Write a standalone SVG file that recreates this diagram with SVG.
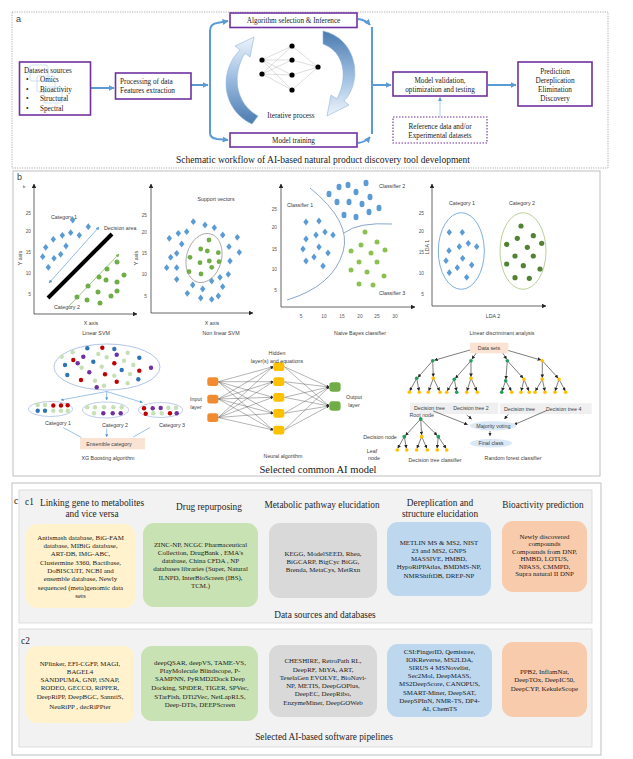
<svg xmlns="http://www.w3.org/2000/svg" width="633" height="759" viewBox="0 0 633 759">
<defs>
<style>
.serif{font-family:"Liberation Serif","Times New Roman",serif;fill:#1a1a1a}
.sans{font-family:"Liberation Sans",Arial,sans-serif;fill:#404040}
.ta{font-size:7.2px}
.mid{text-anchor:middle}
.box{fill:#fff;stroke:#7030a0;stroke-width:1.6}
.flow{fill:none;stroke:#5b9bd5;stroke-width:2}
.ax{stroke:#404040;stroke-width:0.8;fill:none}
.tick{font-family:"Liberation Sans",Arial,sans-serif;font-size:4.8px;fill:#595959;text-anchor:end}
.lbl{font-size:5.3px}
.g1{fill:#70ad47}
.g2{fill:#8cc152}
.g3{fill:#548235}
.bl{fill:#5b9bd5}
.xb{fill:#2e75b6}.xr{fill:#c00000}.xp{fill:#7030a0}.xg{fill:#c5e0b4}
.nn{stroke:#bdbdbd;stroke-width:0.5}
.nl{stroke:#595959;stroke-width:0.45;marker-end:url(#ak)}
.te{stroke:#262626;stroke-width:0.6;marker-end:url(#ak)}
.ty{fill:#ffc000}.tg{fill:#1f9e5a}
.cb{font-family:"Liberation Serif","Times New Roman",serif;font-size:6.9px;fill:#1a1a1a;text-anchor:middle}
.ch{font-family:"Liberation Serif","Times New Roman",serif;font-size:9.3px;fill:#262626;text-anchor:middle}
.pan{fill:#fff;stroke:#bfbfbf;stroke-width:1}
.sub{fill:#f2f2f2;stroke:#d6d6d6;stroke-width:0.8}
</style>
<path id="dm" d="M0,-3.4L2.7,0L0,3.4L-2.7,0Z" fill="#5b9bd5"/>
<marker id="ab" viewBox="0 0 10 10" refX="9" refY="5" markerWidth="3" markerHeight="3" orient="auto"><path d="M0,0L10,5L0,10Z" fill="#5b9bd5"/></marker>
<marker id="ak" viewBox="0 0 10 10" refX="9" refY="5" markerWidth="6" markerHeight="6" orient="auto"><path d="M0,0L10,5L0,10Z" fill="#262626"/></marker>
<marker id="abt" viewBox="0 0 10 10" refX="9" refY="5" markerWidth="5" markerHeight="5" orient="auto-start-reverse"><path d="M0,0L10,5L0,10Z" fill="#5b9bd5"/></marker>
<marker id="agt" viewBox="0 0 10 10" refX="9" refY="5" markerWidth="5" markerHeight="5" orient="auto"><path d="M0,0L10,5L0,10Z" fill="#70ad47"/></marker>
<marker id="alb" viewBox="0 0 10 10" refX="9" refY="5" markerWidth="5" markerHeight="5" orient="auto"><path d="M0,0L10,5L0,10Z" fill="#5b9bd5"/></marker>
<linearGradient id="gup" x1="0" y1="1" x2="0" y2="0"><stop offset="0" stop-color="#4a7bb0"/><stop offset="0.6" stop-color="#a9c6e6"/><stop offset="1" stop-color="#eef4fb"/></linearGradient>
<linearGradient id="gdn" x1="0" y1="0" x2="0" y2="1"><stop offset="0" stop-color="#4a7bb0"/><stop offset="0.6" stop-color="#a9c6e6"/><stop offset="1" stop-color="#eef4fb"/></linearGradient>
</defs>
<rect width="633" height="759" fill="#fff"/>

<!-- ===== Panel a ===== -->
<g id="panel-a">
<rect x="12" y="12" width="596" height="156" fill="#fff" stroke="#9a9a9a" stroke-width="0.8" stroke-dasharray="1.2,1.2"/>
<text class="sans" x="16" y="22" font-size="9" fill="#222">a</text>
<text class="serif mid" x="323" y="163" font-size="9.5">Schematic workflow of AI-based natural product discovery tool development</text>
</g>

<g id="connectors-a">
<line class="flow" x1="91" y1="88" x2="114" y2="88" marker-end="url(#ab)"/>
<line class="flow" x1="191" y1="85" x2="208" y2="85" marker-end="url(#ab)"/>
<path class="flow" d="M210,133 L210,31 Q210,24 217,23 L228,21" marker-end="url(#ab)"/>
<path class="flow" d="M210,128 L210,133 Q210,138 217,139 L228,140" marker-end="url(#ab)"/>
<path class="flow" d="M358,19 Q366,20 370,25" marker-end="url(#ab)"/>
<line class="flow" x1="372" y1="27" x2="372" y2="134"/>
<path class="flow" d="M358,143 Q366,142 370,137" marker-end="url(#ab)"/>
<line class="flow" x1="372" y1="85" x2="391" y2="85" marker-end="url(#ab)"/>
<line class="flow" x1="488" y1="85" x2="516" y2="85" marker-end="url(#ab)"/>
<line x1="440" y1="117" x2="440" y2="97.5" stroke="#9dc3e6" stroke-width="0.8" marker-end="url(#alb)"/>
</g>

<g id="node-datasets">
<rect class="box" x="19.5" y="62" width="71" height="53"/>
<g fill="none" stroke="#9dc3e6" stroke-width="0.7" opacity="0.7">
<rect x="30" y="65" width="18" height="16" rx="2"/>
<rect x="37" y="76" width="18" height="16" rx="2"/>
<rect x="44" y="87" width="18" height="16" rx="2"/>
</g>
<text class="serif ta" x="24" y="73">Datasets sources</text>
<text class="serif ta" x="26" y="81.5">•</text><text class="serif ta" x="40" y="81.5">Omics</text>
<text class="serif ta" x="26" y="91.5">•</text><text class="serif ta" x="40" y="91.5">Bioactivity</text>
<text class="serif ta" x="26" y="101">•</text><text class="serif ta" x="40" y="101">Structural</text>
<text class="serif ta" x="26" y="110.5">•</text><text class="serif ta" x="40" y="110.5">Spectral</text>
</g>

<g id="node-processing">
<rect class="box" x="115.5" y="73" width="75.5" height="26"/>
<text class="serif ta" x="120" y="83.5">Processing of data</text>
<text class="serif ta" x="120" y="92.5">Features extraction</text>
</g>

<g id="node-algorithm">
<rect class="box" x="230" y="13" width="127" height="14.5"/>
<text class="serif ta mid" x="293.5" y="23">Algorithm selection &amp; Inference</text>
</g>

<g id="node-training">
<rect class="box" x="230" y="133" width="127" height="14"/>
<text class="serif ta mid" x="293.5" y="142.5">Model training</text>
</g>

<g id="iterative">
<path d="M252,124 C222,110 218,72 240,50 L235,46 L254,37 L250,57 L245,53 C231,76 236,104 258,116 Z" fill="url(#gup)" stroke="#8fb4dc" stroke-width="0.6"/>
<path d="M323,31 C356,38 364,80 344,101 L349,105 L327,116 L331,95 L337,99 C348,78 345,52 323,44 Z" fill="url(#gdn)" stroke="#8fb4dc" stroke-width="0.6"/>
<g class="nn">
<line x1="262" y1="60" x2="292" y2="46"/><line x1="262" y1="60" x2="292" y2="60"/><line x1="262" y1="60" x2="292" y2="75"/><line x1="262" y1="60" x2="292" y2="90"/>
<line x1="262" y1="74" x2="292" y2="46"/><line x1="262" y1="74" x2="292" y2="60"/><line x1="262" y1="74" x2="292" y2="75"/><line x1="262" y1="74" x2="292" y2="90"/>
<line x1="292" y1="46" x2="318" y2="67"/><line x1="292" y1="60" x2="318" y2="67"/><line x1="292" y1="75" x2="318" y2="67"/><line x1="292" y1="90" x2="318" y2="67"/>
</g>
<g fill="#000">
<circle cx="262" cy="60" r="2.6"/><circle cx="262" cy="74" r="2.6"/>
<circle cx="292" cy="46" r="2.6"/><circle cx="292" cy="60" r="2.6"/><circle cx="292" cy="75" r="2.6"/><circle cx="292" cy="90" r="2.6"/>
<circle cx="318" cy="67" r="2.6"/>
</g>
<text class="serif ta mid" x="291" y="117.5">Iterative process</text>
</g>

<g id="node-validation">
<rect class="box" x="393" y="72" width="94" height="24"/>
<text class="serif ta mid" x="440" y="82.5">Model validation,</text>
<text class="serif ta mid" x="440" y="91.5">optimization and testing</text>
</g>

<g id="node-prediction">
<rect class="box" x="518" y="62" width="74" height="44"/>
<text class="serif ta mid" x="555" y="73.5">Prediction</text>
<text class="serif ta mid" x="555" y="82.5">Dereplication</text>
<text class="serif ta mid" x="555" y="91.5">Elimination</text>
<text class="serif ta mid" x="555" y="101">Discovery</text>
</g>

<g id="node-reference">
<rect x="393" y="117" width="94" height="26" fill="#fff" stroke="#7030a0" stroke-width="1.1" stroke-dasharray="1.5,1.5"/>
<text class="serif ta mid" x="440" y="128.5">Reference data and/or</text>
<text class="serif ta mid" x="440" y="138">Experimental datasets</text>
</g>

<!-- ===== Panel b ===== -->
<g id="panel-b">
<rect class="pan" x="13" y="171" width="587" height="305"/>
<text class="sans" x="17" y="180" font-size="9" fill="#222">b</text>
<text class="serif mid" x="318" y="473" font-size="10.5">Selected common AI model</text>
</g>

<g id="linear-svm">
<line class="ax" x1="34" y1="314" x2="34" y2="184" marker-end="url(#ak)"/>
<line class="ax" x1="34" y1="314" x2="137" y2="314" marker-end="url(#ak)"/>
<text class="sans" x="23" y="187.5" font-size="4">b</text>
<text class="tick" x="31" y="214.5">25</text><text class="tick" x="31" y="232.5">20</text><text class="tick" x="31" y="253.5">15</text><text class="tick" x="31" y="274.5">10</text><text class="tick" x="31" y="295.5">5</text>
<text class="sans lbl mid" transform="translate(21.5,258) rotate(-90)">Y axis</text>
<text class="sans lbl" x="51" y="219">Category 1</text>
<text class="sans lbl" x="104" y="230">Decision area</text>
<text class="sans lbl" x="54" y="309">Category 2</text>
<line x1="49" y1="283" x2="99" y2="227" stroke="#5b9bd5" stroke-width="0.7" marker-start="url(#abt)" marker-end="url(#abt)"/>
<line x1="48" y1="298" x2="112" y2="234" stroke="#000" stroke-width="4"/>
<line x1="68" y1="307" x2="119" y2="254" stroke="#70ad47" stroke-width="0.7" marker-end="url(#agt)"/>
<use href="#dm" x="72.7" y="220"/><use href="#dm" x="88.3" y="226.7"/><use href="#dm" x="79.3" y="235.3"/><use href="#dm" x="70.7" y="232.7"/><use href="#dm" x="62.3" y="235.3"/><use href="#dm" x="53.3" y="239.3"/><use href="#dm" x="45.7" y="247.3"/><use href="#dm" x="42.7" y="256.7"/><use href="#dm" x="48.3" y="267.3"/><use href="#dm" x="54" y="258.3"/><use href="#dm" x="60.7" y="254.3"/><use href="#dm" x="66" y="246"/>
<g class="g1">
<circle cx="117" cy="262" r="2.5"/><circle cx="107" cy="269" r="2.5"/><circle cx="99" cy="277" r="2.5"/><circle cx="106" cy="280" r="2.5"/><circle cx="117" cy="282" r="2.5"/><circle cx="124" cy="275" r="2.5"/><circle cx="88" cy="286" r="2.5"/><circle cx="98" cy="292" r="2.5"/><circle cx="111" cy="296" r="2.5"/><circle cx="117" cy="291" r="2.5"/><circle cx="77" cy="297" r="2.5"/><circle cx="87" cy="300" r="2.5"/><circle cx="100" cy="303" r="2.5"/>
</g>
<text class="sans lbl mid" x="91" y="325">X axis</text>
<text class="sans lbl mid" x="96" y="335">Linear SVM</text>
</g>

<g id="nonlinear-svm">
<line class="ax" x1="151" y1="313" x2="151" y2="184" marker-end="url(#ak)"/>
<line class="ax" x1="151" y1="313" x2="253" y2="313" marker-end="url(#ak)"/>
<text class="tick" x="147" y="216.5">25</text><text class="tick" x="147" y="233.5">20</text><text class="tick" x="147" y="254.5">15</text><text class="tick" x="147" y="275.5">10</text><text class="tick" x="147" y="297.5">5</text>
<text class="sans lbl mid" transform="translate(137.5,258) rotate(-90)">Y axis</text>
<text class="sans lbl mid" x="216" y="201">Support vectors</text>
<ellipse cx="204" cy="258" rx="17.5" ry="25" fill="none" stroke="#7f7f7f" stroke-width="0.6" transform="rotate(15 204 258)"/>
<use href="#dm" x="193.3" y="221.7"/><use href="#dm" x="205" y="225"/><use href="#dm" x="214.3" y="227.7"/><use href="#dm" x="222.7" y="235"/><use href="#dm" x="237.3" y="237.3"/><use href="#dm" x="239.3" y="252.3"/><use href="#dm" x="229" y="246.7"/><use href="#dm" x="230" y="261"/><use href="#dm" x="228.3" y="274.3"/><use href="#dm" x="220" y="277.3"/><use href="#dm" x="222.7" y="286.7"/><use href="#dm" x="218.3" y="296"/><use href="#dm" x="211.7" y="299.3"/><use href="#dm" x="200.7" y="298"/><use href="#dm" x="187.3" y="293.3"/><use href="#dm" x="192.7" y="285"/><use href="#dm" x="202.7" y="289"/><use href="#dm" x="211.7" y="281"/><use href="#dm" x="176.7" y="279.3"/><use href="#dm" x="166.7" y="267.7"/><use href="#dm" x="176.7" y="267.7"/><use href="#dm" x="170.7" y="257.3"/><use href="#dm" x="176.7" y="253.3"/><use href="#dm" x="181.7" y="244"/><use href="#dm" x="169.3" y="238.3"/><use href="#dm" x="178.3" y="233.3"/><use href="#dm" x="186.7" y="231.7"/>
<g class="g1">
<circle cx="209" cy="240" r="2.4"/><circle cx="200.7" cy="249" r="2.4"/><circle cx="207.3" cy="251" r="2.4"/><circle cx="218.3" cy="252.7" r="2.4"/><circle cx="190" cy="257.3" r="2.4"/><circle cx="200" cy="262.7" r="2.4"/><circle cx="209.3" cy="261" r="2.4"/><circle cx="219" cy="261.7" r="2.4"/><circle cx="189" cy="271.7" r="2.4"/><circle cx="201" cy="274" r="2.4"/><circle cx="211.7" cy="267.3" r="2.4"/>
</g>
<text class="sans lbl mid" x="212" y="325">X axis</text>
<text class="sans lbl mid" x="221" y="335">Non linear SVM</text>
</g>

<g id="naive-bayes">
<line class="ax" x1="281" y1="307" x2="281" y2="184" marker-end="url(#ak)"/>
<line class="ax" x1="281" y1="307" x2="415" y2="307" marker-end="url(#ak)"/>
<text class="tick" x="277" y="210.5">25</text><text class="tick" x="277" y="228.5">20</text><text class="tick" x="277" y="250.5">15</text><text class="tick" x="277" y="270.5">10</text><text class="tick" x="277" y="291.5">5</text>
<g class="tick" style="text-anchor:middle"><text x="301" y="318">5</text><text x="324" y="318">10</text><text x="342" y="318">15</text><text x="360" y="318">20</text><text x="377" y="318">25</text><text x="395" y="318">30</text></g>
<path d="M310,188 Q352,222 343,252 Q333,286 287,300" fill="none" stroke="#5a7fb5" stroke-width="0.7"/>
<path d="M344,233 Q358,222 392,224" fill="none" stroke="#5a7fb5" stroke-width="0.7"/>
<text class="sans lbl" x="287" y="207">Classifier 1</text>
<text class="sans lbl" x="379" y="188">Classifier 2</text>
<text class="sans lbl" x="379" y="295">Classifier 3</text>
<g class="bl">
<ellipse cx="339" cy="187" rx="2.5" ry="3.2"/><ellipse cx="348" cy="185" rx="2.5" ry="3.2"/><ellipse cx="366" cy="183" rx="2.5" ry="3.2"/><ellipse cx="329" cy="194" rx="2.5" ry="3.2"/><ellipse cx="356" cy="192" rx="2.5" ry="3.2"/><ellipse cx="370" cy="197" rx="2.5" ry="3.2"/><ellipse cx="337" cy="202" rx="2.5" ry="3.2"/><ellipse cx="349" cy="202" rx="2.5" ry="3.2"/><ellipse cx="362" cy="204" rx="2.5" ry="3.2"/><ellipse cx="379" cy="208" rx="2.5" ry="3.2"/><ellipse cx="344" cy="215" rx="2.5" ry="3.2"/><ellipse cx="356" cy="217" rx="2.5" ry="3.2"/><ellipse cx="369" cy="212" rx="2.5" ry="3.2"/>
</g>
<use href="#dm" x="306" y="222"/><use href="#dm" x="319" y="221"/><use href="#dm" x="306" y="239"/><use href="#dm" x="316" y="235"/><use href="#dm" x="325" y="232"/><use href="#dm" x="333" y="235"/><use href="#dm" x="303" y="249"/><use href="#dm" x="319" y="247"/><use href="#dm" x="328" y="253"/><use href="#dm" x="306" y="261"/><use href="#dm" x="314" y="257"/><use href="#dm" x="323" y="266"/>
<g class="g2">
<circle cx="365" cy="232" r="2.5"/><circle cx="377" cy="242" r="2.5"/><circle cx="351" cy="251" r="2.5"/><circle cx="361" cy="245" r="2.5"/><circle cx="371" cy="253" r="2.5"/><circle cx="385" cy="250" r="2.5"/><circle cx="359" cy="262" r="2.5"/><circle cx="377" cy="262" r="2.5"/><circle cx="351" cy="270" r="2.5"/><circle cx="367" cy="272" r="2.5"/><circle cx="384" cy="276" r="2.5"/><circle cx="359" cy="284" r="2.5"/><circle cx="373" cy="285" r="2.5"/>
</g>
<text class="sans lbl mid" x="360" y="335">Naive Bayes classifier</text>
</g>

<g id="lda">
<line class="ax" x1="432" y1="306" x2="432" y2="184" marker-end="url(#ak)"/>
<line class="ax" x1="432" y1="306" x2="546" y2="306" marker-end="url(#ak)"/>
<text class="tick" x="424" y="214.5">25</text><text class="tick" x="424" y="232.5">20</text><text class="tick" x="424" y="253.5">15</text><text class="tick" x="424" y="274.5">10</text><text class="tick" x="424" y="295.5">5</text>
<text class="sans lbl mid" transform="translate(429,247) rotate(-90)">LDA 1</text>
<text class="sans lbl mid" x="462" y="205">Category 1</text>
<text class="sans lbl mid" x="522" y="205">Category 2</text>
<ellipse cx="461.3" cy="251" rx="23" ry="38.3" fill="none" stroke="#5b9bd5" stroke-width="0.8"/>
<ellipse cx="523" cy="251" rx="23" ry="38.3" fill="none" stroke="#a9c47f" stroke-width="0.8"/>
<use href="#dm" x="449.3" y="232.3"/><use href="#dm" x="462.3" y="232.3"/><use href="#dm" x="468.3" y="243.3"/><use href="#dm" x="459.3" y="246.7"/><use href="#dm" x="449" y="250.7"/><use href="#dm" x="476.7" y="246.7"/><use href="#dm" x="462.7" y="258.3"/><use href="#dm" x="446" y="260.7"/><use href="#dm" x="457.3" y="267.7"/><use href="#dm" x="471.7" y="265"/><use href="#dm" x="449.3" y="272.7"/><use href="#dm" x="466.7" y="277.3"/>
<g class="g3">
<circle cx="521" cy="226" r="2.6"/><circle cx="533.3" cy="235.7" r="2.6"/><circle cx="517.3" cy="238.3" r="2.6"/><circle cx="541.7" cy="243.3" r="2.6"/><circle cx="506.7" cy="244.3" r="2.6"/><circle cx="527.3" cy="247.3" r="2.6"/><circle cx="515" cy="256" r="2.6"/><circle cx="533.3" cy="256" r="2.6"/><circle cx="506.7" cy="264" r="2.6"/><circle cx="523.3" cy="265.7" r="2.6"/><circle cx="540" cy="269" r="2.6"/><circle cx="515" cy="277.7" r="2.6"/><circle cx="529.3" cy="278.3" r="2.6"/>
</g>
<text class="sans lbl mid" x="493" y="318">LDA 2</text>
<text class="sans lbl mid" x="502" y="335">Linear discriminant analysis</text>
</g>

<g id="xgboost">
<ellipse cx="107" cy="367" rx="53" ry="23" fill="#fff" stroke="#8faadc" stroke-width="0.7"/>
<g>
<circle class="xb" cx="87.3" cy="348.3" r="2.2"/><circle class="xr" cx="102.3" cy="347.7" r="2.2"/><circle class="xb" cx="114.3" cy="349" r="2.2"/>
<circle class="xg" cx="72.7" cy="352.3" r="2.2"/><circle class="xg" cx="98.3" cy="354" r="2.2"/><circle class="xp" cx="116.7" cy="354.7" r="2.2"/><circle class="xg" cx="127.7" cy="352.7" r="2.2"/>
<circle class="xg" cx="61.7" cy="356.7" r="2.2"/><circle class="xp" cx="83.3" cy="356.7" r="2.2"/><circle class="xg" cx="106.7" cy="357.3" r="2.2"/><circle class="xb" cx="139.3" cy="357.7" r="2.2"/>
<circle class="xr" cx="73.3" cy="360" r="2.2"/><circle class="xb" cx="93.3" cy="361.7" r="2.2"/><circle class="xg" cx="124" cy="360.7" r="2.2"/>
<circle class="xb" cx="65" cy="365" r="2.2"/><circle class="xp" cx="77.7" cy="363.3" r="2.2"/><circle class="xr" cx="114.3" cy="363.3" r="2.2"/><circle class="xg" cx="133.3" cy="365" r="2.2"/><circle class="xp" cx="151" cy="367.7" r="2.2"/>
<circle class="xg" cx="81.7" cy="367.7" r="2.2"/><circle class="xg" cx="101.7" cy="366.7" r="2.2"/><circle class="xb" cx="121.7" cy="370" r="2.2"/><circle class="xr" cx="139.3" cy="370.7" r="2.2"/>
<circle class="xp" cx="89.3" cy="372.3" r="2.2"/><circle class="xb" cx="67.3" cy="375" r="2.2"/><circle class="xr" cx="105" cy="374.3" r="2.2"/><circle class="xg" cx="114.3" cy="375.7" r="2.2"/><circle class="xg" cx="130" cy="374" r="2.2"/>
<circle class="xr" cx="81" cy="380" r="2.2"/><circle class="xg" cx="95" cy="380.7" r="2.2"/><circle class="xr" cx="116.7" cy="381.7" r="2.2"/><circle class="xg" cx="127.7" cy="383.3" r="2.2"/><circle class="xb" cx="138.3" cy="379.3" r="2.2"/>
<circle class="xg" cx="104" cy="385.7" r="2.2"/><circle class="xp" cx="96.7" cy="387.3" r="2.2"/>
</g>
<g stroke="#5b9bd5" stroke-width="0.6" fill="none">
<line x1="106.7" y1="391.5" x2="61" y2="400" marker-end="url(#alb)"/>
<line x1="106.7" y1="391.5" x2="106.7" y2="400" marker-end="url(#alb)"/>
<line x1="106.7" y1="391.5" x2="142.5" y2="402.5" marker-end="url(#alb)"/>
<line x1="63" y1="427.5" x2="81.5" y2="437.5"/>
<line x1="106.7" y1="428.5" x2="106.7" y2="437" marker-end="url(#alb)"/>
<line x1="150" y1="427.5" x2="133.3" y2="437"/>
</g>
<ellipse cx="50.5" cy="409" rx="22" ry="7.5" fill="#fff" stroke="#8faadc" stroke-width="0.6"/>
<ellipse cx="105.5" cy="410" rx="23" ry="8" fill="#fff" stroke="#8faadc" stroke-width="0.6"/>
<ellipse cx="160.5" cy="410" rx="22" ry="7.5" fill="#fff" stroke="#8faadc" stroke-width="0.6"/>
<circle class="xg" cx="37.7" cy="405" r="2.2"/><circle class="xg" cx="45" cy="405" r="2.2"/><circle class="xr" cx="53.3" cy="405.5" r="2.2"/><circle class="xr" cx="61" cy="405.5" r="2.2"/><circle class="xr" cx="67.7" cy="405.3" r="2.2"/>
<circle class="xb" cx="37.7" cy="410.7" r="2.2"/><circle class="xb" cx="45" cy="410.7" r="2.2"/><circle class="xg" cx="53.3" cy="410.7" r="2.2"/><circle class="xg" cx="61" cy="410.7" r="2.2"/><circle class="xg" cx="67.7" cy="410.7" r="2.2"/>
<circle class="xg" cx="87.3" cy="407.3" r="2.2"/><circle class="xg" cx="95" cy="407.3" r="2.2"/><circle class="xg" cx="104" cy="407.3" r="2.2"/><circle class="xg" cx="113.3" cy="407.3" r="2.2"/><circle class="xg" cx="121.7" cy="407.3" r="2.2"/>
<circle class="xg" cx="94" cy="413.3" r="2.2"/><circle class="xp" cx="103.3" cy="413.3" r="2.2"/><circle class="xp" cx="112.7" cy="413.3" r="2.2"/><circle class="xp" cx="120.7" cy="413.3" r="2.2"/>
<circle class="xr" cx="144" cy="408.3" r="2.2"/><circle class="xp" cx="152.7" cy="408.3" r="2.2"/><circle class="xp" cx="160.7" cy="408" r="2.2"/><circle class="xg" cx="168.3" cy="407.7" r="2.2"/><circle class="xg" cx="176" cy="407.7" r="2.2"/>
<circle class="xr" cx="145.7" cy="413.7" r="2.2"/><circle class="xg" cx="153.3" cy="413.3" r="2.2"/><circle class="xg" cx="161.7" cy="413.3" r="2.2"/><circle class="xr" cx="170" cy="413.3" r="2.2"/><circle class="xp" cx="176.7" cy="413.3" r="2.2"/>
<text class="sans lbl mid" x="58" y="425">Category 1</text>
<text class="sans lbl mid" x="115" y="427">Category 2</text>
<text class="sans lbl mid" x="172" y="427">Category 3</text>
<rect x="80" y="438" width="65" height="11.3" fill="#fbe3d3"/>
<text class="sans lbl mid" x="109" y="445.8">Ensemble category</text>
<text class="sans lbl mid" x="108" y="460">XG Boosting algorithm</text>
</g>

<g id="neural-net">
<g>
<line class="nl" x1="218.3" y1="381.7" x2="273" y2="366.7"/><line class="nl" x1="218.3" y1="381.7" x2="273" y2="381.7"/><line class="nl" x1="218.3" y1="381.7" x2="273" y2="397.3"/><line class="nl" x1="218.3" y1="381.7" x2="273" y2="413.3"/><line class="nl" x1="218.3" y1="381.7" x2="273" y2="430"/>
<line class="nl" x1="218.3" y1="399" x2="273" y2="366.7"/><line class="nl" x1="218.3" y1="399" x2="273" y2="381.7"/><line class="nl" x1="218.3" y1="399" x2="273" y2="397.3"/><line class="nl" x1="218.3" y1="399" x2="273" y2="413.3"/><line class="nl" x1="218.3" y1="399" x2="273" y2="430"/>
<line class="nl" x1="218.3" y1="417.5" x2="273" y2="366.7"/><line class="nl" x1="218.3" y1="417.5" x2="273" y2="381.7"/><line class="nl" x1="218.3" y1="417.5" x2="273" y2="397.3"/><line class="nl" x1="218.3" y1="417.5" x2="273" y2="413.3"/><line class="nl" x1="218.3" y1="417.5" x2="273" y2="430"/>
<line class="nl" x1="284.3" y1="366.7" x2="329" y2="387"/><line class="nl" x1="284.3" y1="381.7" x2="329" y2="387"/><line class="nl" x1="284.3" y1="397.3" x2="329" y2="387"/><line class="nl" x1="284.3" y1="413.3" x2="329" y2="387"/><line class="nl" x1="284.3" y1="430" x2="329" y2="387"/>
<line class="nl" x1="284.3" y1="366.7" x2="329" y2="406"/><line class="nl" x1="284.3" y1="381.7" x2="329" y2="406"/><line class="nl" x1="284.3" y1="397.3" x2="329" y2="406"/><line class="nl" x1="284.3" y1="413.3" x2="329" y2="406"/><line class="nl" x1="284.3" y1="430" x2="329" y2="406"/>
</g>
<g fill="#f28a30">
<rect x="207.3" y="377.3" width="11" height="8.7" rx="2.5"/><rect x="207.3" y="394.7" width="11" height="8.7" rx="2.5"/><rect x="207.3" y="413.2" width="11" height="8.7" rx="2.5"/>
</g>
<g fill="#ffc000">
<rect x="273.3" y="362.3" width="11" height="8.7" rx="2.5"/><rect x="273.3" y="377.3" width="11" height="8.7" rx="2.5"/><rect x="273.3" y="393" width="11" height="8.7" rx="2.5"/><rect x="273.3" y="409" width="11" height="8.7" rx="2.5"/><rect x="273.3" y="425.7" width="11" height="8.7" rx="2.5"/>
</g>
<g fill="#70ad47">
<rect x="329.3" y="382.3" width="11.3" height="9.4" rx="3"/><rect x="329.3" y="401.3" width="11.3" height="9.4" rx="3"/>
</g>
<text class="sans lbl mid" x="277" y="355">Hidden</text>
<text class="sans lbl mid" x="277" y="363">layer(s) and equations</text>
<text class="sans lbl mid" x="196" y="400.5">Input</text>
<text class="sans lbl mid" x="196" y="408.5">layer</text>
<text class="sans lbl mid" x="354" y="398.5">Output</text>
<text class="sans lbl mid" x="354" y="406.5">layer</text>
<text class="sans lbl mid" x="283" y="458">Neural algorithm</text>
</g>

<g id="random-forest">
<rect x="470" y="342.7" width="38.3" height="10.6" fill="#fbe3d3"/>
<text class="sans lbl mid" x="489" y="350">Data sets</text>
<line class="te" x1="470" y1="350" x2="434.5" y2="360.2"/>
<line class="te" x1="476" y1="353.3" x2="472" y2="359"/>
<line class="te" x1="503" y1="353.3" x2="506.5" y2="359"/>
<line class="te" x1="508.3" y1="350.5" x2="540.8" y2="360"/>
<!-- tree 1 -->
<line class="te" x1="432.7" y1="360.7" x2="418" y2="377.3"/><line class="te" x1="432.7" y1="360.7" x2="433.3" y2="376.7"/>
<line class="te" x1="416.7" y1="378.3" x2="409.8" y2="390.8"/><line class="te" x1="416.7" y1="378.3" x2="419" y2="390.8"/><line class="te" x1="433.3" y1="378.3" x2="428.8" y2="390.8"/><line class="te" x1="433.3" y1="378.3" x2="439.5" y2="390.8"/>
<!-- tree 2 -->
<line class="te" x1="471" y1="360.7" x2="455.5" y2="378.2"/><line class="te" x1="471" y1="360.7" x2="471" y2="376.7"/>
<line class="te" x1="454.3" y1="379.3" x2="447.3" y2="390.8"/><line class="te" x1="454.3" y1="379.3" x2="456.5" y2="390.8"/><line class="te" x1="471" y1="378.3" x2="467" y2="390.8"/><line class="te" x1="471" y1="378.3" x2="476.8" y2="390.8"/>
<!-- tree 3 -->
<line class="te" x1="507.3" y1="360.7" x2="505.9" y2="379"/><line class="te" x1="507.3" y1="360.7" x2="523" y2="378"/>
<line class="te" x1="505.7" y1="380.7" x2="502" y2="390.8"/><line class="te" x1="505.7" y1="380.7" x2="511.2" y2="390.8"/><line class="te" x1="524" y1="379.3" x2="521.3" y2="390.8"/><line class="te" x1="524" y1="379.3" x2="528.8" y2="390.8"/>
<!-- tree 4 -->
<line class="te" x1="542.3" y1="360.7" x2="542.3" y2="377.7"/><line class="te" x1="542.3" y1="360.7" x2="558" y2="378"/>
<line class="te" x1="542.3" y1="379.3" x2="535.5" y2="390.8"/><line class="te" x1="542.3" y1="379.3" x2="544.8" y2="390.8"/><line class="te" x1="559" y1="379.3" x2="555.2" y2="390.8"/><line class="te" x1="559" y1="379.3" x2="565.2" y2="390.8"/>
<g>
<circle class="tg" cx="432.7" cy="360.7" r="1.8"/><circle class="tg" cx="416.7" cy="378.3" r="1.8"/><circle class="ty" cx="433.3" cy="378.3" r="1.8"/>
<circle class="ty" cx="409.3" cy="392.3" r="1.8"/><circle class="ty" cx="419.3" cy="392.3" r="1.8"/><circle class="ty" cx="428.3" cy="392.3" r="1.8"/><circle class="ty" cx="440" cy="392.3" r="1.8"/>
<circle class="tg" cx="471" cy="360.7" r="1.8"/><circle class="tg" cx="454.3" cy="379.3" r="1.8"/><circle class="ty" cx="471" cy="378.3" r="1.8"/>
<circle class="ty" cx="446.7" cy="392.3" r="1.8"/><circle class="tg" cx="456.7" cy="392.3" r="1.8"/><circle class="ty" cx="466.7" cy="392.3" r="1.8"/><circle class="ty" cx="477.3" cy="392.3" r="1.8"/>
<circle class="tg" cx="507.3" cy="360.7" r="1.8"/><circle class="tg" cx="505.7" cy="380.7" r="1.8"/><circle class="ty" cx="524" cy="379.3" r="1.8"/>
<circle class="tg" cx="501.7" cy="392.3" r="1.8"/><circle class="ty" cx="511.7" cy="392.3" r="1.8"/><circle class="ty" cx="521" cy="392.3" r="1.8"/><circle class="ty" cx="529.3" cy="392.3" r="1.8"/>
<circle class="ty" cx="542.3" cy="360.7" r="1.8"/><circle class="ty" cx="542.3" cy="379.3" r="1.8"/><circle class="ty" cx="559" cy="379.3" r="1.8"/>
<circle class="ty" cx="535" cy="392.3" r="1.8"/><circle class="ty" cx="545" cy="392.3" r="1.8"/><circle class="ty" cx="555" cy="392.3" r="1.8"/><circle class="ty" cx="565.7" cy="392.3" r="1.8"/>
</g>
<rect x="410" y="402.7" width="88.3" height="11.3" fill="#efefef"/>
<rect x="500" y="403.3" width="91.7" height="10.7" fill="#efefef"/>
<text class="sans lbl" x="414" y="409.5">Decision tree</text>
<text class="sans lbl" x="453.3" y="410.3">Decision tree 2</text>
<text class="sans lbl" x="504" y="410.8">Decision tree</text>
<text class="sans lbl" x="546" y="410.8">Decision tree 4</text>
<line class="te" x1="433.3" y1="411" x2="467.5" y2="424.5"/>
<line class="te" x1="466.7" y1="415" x2="471.5" y2="419"/>
<line class="te" x1="508.3" y1="414.3" x2="504.5" y2="419"/>
<line class="te" x1="546.7" y1="410.5" x2="514" y2="424.8"/>
<ellipse cx="493.3" cy="425.8" rx="23.3" ry="4.6" fill="#dae7f5"/>
<text class="sans lbl mid" x="493.3" y="427.8">Majority voting</text>
<line class="te" x1="490" y1="431" x2="490" y2="435.8"/>
<ellipse cx="491" cy="443.3" rx="21" ry="4.3" fill="#dae7f5"/>
<text class="sans lbl mid" x="491" y="445.3">Final class</text>
<text class="sans lbl mid" x="513" y="460">Random forest  classifier</text>
<!-- decision tree classifier -->
<line class="te" x1="420.7" y1="419" x2="405.5" y2="435.5"/><line class="te" x1="420.7" y1="419" x2="421.6" y2="434.8"/><line class="te" x1="420.7" y1="419" x2="437" y2="435.3"/>
<line class="te" x1="404.3" y1="436.7" x2="397.8" y2="448.2"/><line class="te" x1="404.3" y1="436.7" x2="406.4" y2="448.2"/><line class="te" x1="421.7" y1="436.7" x2="417" y2="448.2"/><line class="te" x1="421.7" y1="436.7" x2="426.8" y2="448.2"/><line class="te" x1="438.3" y1="436.7" x2="437.1" y2="448.2"/><line class="te" x1="438.3" y1="436.7" x2="446" y2="448.2"/>
<circle class="tg" cx="420.7" cy="419" r="1.9"/>
<circle class="tg" cx="404.3" cy="436.7" r="1.9"/><circle class="ty" cx="421.7" cy="436.7" r="1.9"/><circle class="tg" cx="438.3" cy="436.7" r="1.9"/>
<circle class="ty" cx="397.3" cy="450" r="1.8"/><circle class="ty" cx="406.7" cy="450" r="1.8"/><circle class="ty" cx="416.7" cy="450" r="1.8"/><circle class="ty" cx="427.3" cy="450" r="1.8"/><circle class="ty" cx="437.3" cy="450" r="1.8"/><circle class="ty" cx="446.7" cy="450" r="1.8"/>
<text class="sans lbl mid" x="421.7" y="416.5">Root node</text>
<text class="sans lbl mid" x="380" y="438.5">Decision node</text>
<text class="sans lbl mid" x="372" y="452.5">Leaf</text>
<text class="sans lbl mid" x="374" y="460">node</text>
<text class="sans lbl mid" x="435" y="462">Decision tree classifier</text>
</g>

<!-- ===== Panel c ===== -->
<g id="panel-c">
<rect class="pan" x="12" y="483" width="589" height="272" stroke="#a6a6a6"/>
<rect class="sub" x="19" y="490" width="573" height="133"/>
<rect class="sub" x="19" y="629" width="573" height="118"/>
<text class="serif" x="14" y="504" font-size="9.5">c</text>
<text class="serif" x="25" y="505" font-size="9.3">c1</text>
<text class="serif" x="21" y="644" font-size="9.3">c2</text>
<text class="ch" x="92" y="506">Linking gene to metabolites</text>
<text class="ch" x="92" y="517">and vice versa</text>
<text class="ch" x="209" y="510">Drug repurposing</text>
<text class="ch" x="322" y="508">Metabolic pathway elucidation</text>
<text class="ch" x="440" y="506">Dereplication and</text>
<text class="ch" x="440" y="516.5">structure elucidation</text>
<text class="ch" x="543" y="508">Bioactivity prediction</text>
<text class="ch" x="325" y="618">Data sources and databases</text>
<text class="ch" x="324" y="740">Selected AI-based software pipelines</text>
</g>

<g id="c1-linking">
<rect x="26" y="524" width="109" height="84" rx="11" fill="#fff2cc"/>
<text class="cb" x="80.5" y="539.5">Antismash database, BiG-FAM</text>
<text class="cb" x="80.5" y="548">database, MIBiG database,</text>
<text class="cb" x="80.5" y="556.3">ART-DB, IMG-ABC,</text>
<text class="cb" x="80.5" y="564.6">Clustermine 3360, Bactibase,</text>
<text class="cb" x="80.5" y="572.9">DoBISCUIT, NCBI and</text>
<text class="cb" x="80.5" y="581.2">ensemble database, Newly</text>
<text class="cb" x="80.5" y="589.5">sequenced (meta)genomic data</text>
<text class="cb" x="80.5" y="597.8">sets</text>
</g>
<g id="c1-drug">
<rect x="143" y="523" width="115" height="84" rx="11" fill="#c9e2b3"/>
<text class="cb" x="200.5" y="546.5">ZINC-NP, NCGC Pharmaceutical</text>
<text class="cb" x="200.5" y="554.8">Collection, DrugBank , EMA's</text>
<text class="cb" x="200.5" y="563.1">database, China CFDA , NP</text>
<text class="cb" x="200.5" y="571.4">databases libraries (Super, Natural</text>
<text class="cb" x="200.5" y="579.7">II,NPD, InterBioScreen (IBS),</text>
<text class="cb" x="200.5" y="588">TCM.)</text>
</g>
<g id="c1-metabolic">
<rect x="269" y="523" width="108" height="75" rx="11" fill="#d9d9d9"/>
<text class="cb" x="323" y="555.5">KEGG, ModelSEED, Rhea,</text>
<text class="cb" x="323" y="563.8">BiGCARP, BigCyc BiGG,</text>
<text class="cb" x="323" y="572.1">Brenda, MetaCys, MetRxn</text>
</g>
<g id="c1-dereplication">
<rect x="387" y="522" width="104" height="74" rx="11" fill="#bdd7ee"/>
<text class="cb" x="439" y="544.5">METLIN MS &amp; MS2, NIST</text>
<text class="cb" x="439" y="552.8">23 and MS2, GNPS</text>
<text class="cb" x="439" y="561.1">MASSIVE, HMBD,</text>
<text class="cb" x="439" y="569.4">HypoRiPPAtlas, BMDMS-NP,</text>
<text class="cb" x="439" y="577.7">NMRShiftDB, DREP-NP</text>
</g>
<g id="c1-bioactivity">
<rect x="502" y="521" width="85" height="71" rx="11" fill="#f8cbad"/>
<text class="cb" x="544.5" y="538.5">Newly discovered</text>
<text class="cb" x="544.5" y="546">compounds</text>
<text class="cb" x="544.5" y="553.5">Compounds from DNP,</text>
<text class="cb" x="544.5" y="561">HMBD, LOTUS,</text>
<text class="cb" x="544.5" y="568.5">NPASS, CMMPD,</text>
<text class="cb" x="544.5" y="576">Supra natural II DNP</text>
</g>

<g id="c2-linking">
<rect x="26" y="646" width="108" height="77" rx="11" fill="#fff2cc"/>
<text class="cb" x="80" y="665.5">NPlinker, EFI-CGFP, MAGI,</text>
<text class="cb" x="80" y="673.8">BAGEL4</text>
<text class="cb" x="80" y="682.1">SANDPUMA, GNP, iSNAP,</text>
<text class="cb" x="80" y="690.4">RODEO, GECCO, RiPPER,</text>
<text class="cb" x="80" y="698.9">DeepRiPP, DeepBGC, SanntiS,</text>
<text class="cb" x="80" y="708.6">NeuRiPP , decRiPPter</text>
</g>
<g id="c2-drug">
<rect x="141" y="646" width="117" height="75" rx="11" fill="#c9e2b3"/>
<text class="cb" x="200" y="664.5">deepQSAR, deepVS, TAME-VS,</text>
<text class="cb" x="200" y="672.8">PlayMolecule Blindscope, P-</text>
<text class="cb" x="200" y="681.4">SAMPNN, PyRMD2Dock Deep</text>
<text class="cb" x="200" y="690.3">Docking, SPiDER, TIGER, SPVec,</text>
<text class="cb" x="200" y="698.7">STarFish, DTi2Vec, NetLapRLS,</text>
<text class="cb" x="200" y="707">Deep-DTIs, DEEPScreen</text>
</g>
<g id="c2-metabolic">
<rect x="269" y="645" width="108" height="72" rx="11" fill="#d9d9d9"/>
<text class="cb" x="323" y="663.3">CHESHIRE, RetroPath RL,</text>
<text class="cb" x="323" y="671.6">DeepRF, MiYA, ART,</text>
<text class="cb" x="323" y="679.6">TeselaGen EVOLVE, BioNavi-</text>
<text class="cb" x="323" y="687.9">NP, METIS, DeepGOPlus,</text>
<text class="cb" x="323" y="696.2">DeepEC, DeepRibo,</text>
<text class="cb" x="323" y="704.5">EnzymeMiner, DeepGOWeb</text>
</g>
<g id="c2-dereplication">
<rect x="387" y="644" width="105" height="73" rx="11" fill="#bdd7ee"/>
<text class="cb" x="439.5" y="654">CSI:FingerID, Qemistree,</text>
<text class="cb" x="439.5" y="661.6">IOKReverse, MS2LDA,</text>
<text class="cb" x="439.5" y="670">SIRUS 4 MSNovelist,</text>
<text class="cb" x="439.5" y="678">Sec2Mol, DeepMASS,</text>
<text class="cb" x="439.5" y="686.3">MS2DeepScore, CANOPUS,</text>
<text class="cb" x="439.5" y="694.6">SMART-Miner, DeepSAT,</text>
<text class="cb" x="439.5" y="702.6">DeepSPInN, NMR-TS, DP4-</text>
<text class="cb" x="439.5" y="711">AI, ChemTS</text>
</g>
<g id="c2-bioactivity">
<rect x="502" y="642" width="85" height="75" rx="11" fill="#f8cbad"/>
<text class="cb" x="544.5" y="674">PPB2, InflamNat,</text>
<text class="cb" x="544.5" y="682.3">DeepTOx, DeepIC50,</text>
<text class="cb" x="544.5" y="690.6">DeepCYP, KekuleScope</text>
</g>
</svg>
